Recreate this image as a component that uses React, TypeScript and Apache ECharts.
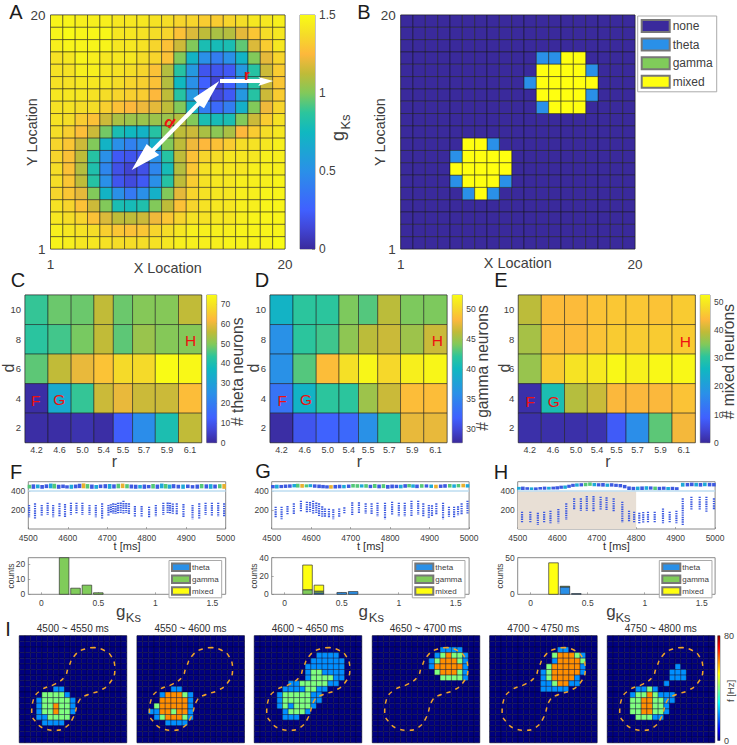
import React, { useEffect, useRef } from "react";
import * as echarts from "echarts";

const FONT = "Liberation Sans";
const INK = "#404040";

// ---------- Panel A: gKs per cell, top row first ----------
const gKsRows: number[][] = [
  [1.47,1.47,1.45,1.45,1.45,1.42,1.42,1.42,1.4,1.38,1.35,1.35,1.32,1.32,1.35,1.38,1.42,1.42,1.45],
  [1.47,1.5,1.48,1.48,1.48,1.42,1.42,1.4,1.38,1.35,1.28,1.18,1.12,1.08,1.1,1.2,1.3,1.38,1.42],
  [1.45,1.47,1.47,1.47,1.47,1.42,1.42,1.4,1.35,1.28,1.15,1.0,0.8,0.78,0.8,0.95,1.18,1.32,1.42],
  [1.4,1.42,1.47,1.45,1.42,1.42,1.42,1.38,1.35,1.28,1.0,0.72,0.5,0.4,0.5,0.72,1.0,1.2,1.35],
  [1.4,1.4,1.45,1.45,1.42,1.4,1.38,1.35,1.28,1.1,0.85,0.55,0.2,0.2,0.22,0.55,0.85,1.15,1.32],
  [1.4,1.4,1.42,1.42,1.42,1.38,1.35,1.33,1.28,1.1,0.75,0.5,0.25,0.13,0.25,0.5,0.85,1.15,1.3],
  [1.42,1.42,1.42,1.4,1.38,1.35,1.33,1.32,1.25,1.12,0.85,0.55,0.25,0.15,0.22,0.55,0.85,1.15,1.32],
  [1.4,1.4,1.38,1.38,1.33,1.28,1.25,1.22,1.2,1.12,1.0,0.72,0.4,0.3,0.4,0.7,1.0,1.22,1.35],
  [1.4,1.38,1.32,1.28,1.15,1.08,1.05,1.05,1.05,1.05,1.1,1.0,0.8,0.78,0.8,1.0,1.15,1.32,1.4],
  [1.38,1.33,1.27,1.15,0.98,0.8,0.75,0.72,0.85,1.0,1.12,1.15,1.08,1.02,1.08,1.25,1.32,1.38,1.42],
  [1.35,1.3,1.15,1.0,0.72,0.5,0.42,0.5,0.7,1.0,1.12,1.22,1.25,1.28,1.32,1.38,1.4,1.42,1.45],
  [1.35,1.28,1.12,0.85,0.5,0.22,0.2,0.22,0.5,0.85,1.12,1.28,1.35,1.38,1.42,1.42,1.42,1.45,1.45],
  [1.38,1.28,1.1,0.82,0.45,0.18,0.12,0.18,0.45,0.78,1.1,1.3,1.4,1.42,1.42,1.42,1.45,1.45,1.45],
  [1.38,1.3,1.12,0.85,0.5,0.2,0.15,0.22,0.5,0.85,1.12,1.32,1.4,1.42,1.42,1.45,1.45,1.45,1.47],
  [1.35,1.3,1.2,1.0,0.72,0.5,0.38,0.5,0.7,1.0,1.2,1.35,1.4,1.42,1.42,1.45,1.45,1.47,1.47],
  [1.4,1.35,1.28,1.15,1.0,0.8,0.78,0.82,1.0,1.12,1.28,1.35,1.4,1.42,1.42,1.45,1.45,1.47,1.47],
  [1.42,1.38,1.35,1.28,1.18,1.12,1.12,1.15,1.22,1.3,1.35,1.4,1.4,1.42,1.42,1.45,1.47,1.47,1.47],
  [1.45,1.42,1.4,1.38,1.33,1.3,1.28,1.3,1.35,1.38,1.42,1.45,1.45,1.45,1.45,1.47,1.47,1.47,1.47],
  [1.47,1.45,1.42,1.42,1.4,1.38,1.38,1.38,1.4,1.42,1.45,1.45,1.45,1.45,1.47,1.47,1.47,1.47,1.5],
];

// ---------- Panel B: 0 none, 1 theta, 2 gamma, 3 mixed; absent rows are all none ----------
const typeRows: Record<number, string> = {
  3: "...........1133....",
  4: "...........33331...",
  5: "..........133333...",
  6: "...........33331...",
  7: "...........1333....",
  10: ".....331...........",
  11: "....13333..........",
  12: "....33333..........",
  13: "....13331..........",
  14: ".....131...........",
};
const typeNames = ["none", "theta", "gamma", "mixed"];
const typeColors = ["#3a2a9c", "#2a90e8", "#80cc5a", "#ffff10"];

// ---------- Panels C D E ----------
const rLabels = ["4.2", "4.6", "5.0", "5.4", "5.5", "5.7", "5.9", "6.1"];
const rEdges = [0, 1.04, 2.09, 3.12, 4.0, 4.87, 5.9, 6.95, 8];
const dValues = [10, 8, 6, 4, 2];
const thetaCounts = [
  [44, 48, 48, 56, 48, 50, 50, 56],
  [43, 45, 49, 56, 47, 52, 50, 50],
  [47, 56, 60, 64, 68, 68, 75, 74],
  [1, 33, 44, 57, 60, 57, 57, 63],
  [1, 1, 2, 1, 12, 24, 40, 56],
];
const gammaCounts = [
  [39.5, 42, 42, 44, 43, 46, 44, 44],
  [36, 42, 42.5, 44.5, 46, 46.5, 45, 46.5],
  [36, 43, 48.5, 50.5, 52, 50, 51.5, 52],
  [33.5, 39.5, 42, 42, 45, 46.5, 48.5, 48.5],
  [28, 31, 32, 32.5, 36, 42, 47.5, 47.5],
];
const mixedCounts = [
  [39, 44, 44, 45, 45.5, 45.5, 45, 46],
  [37.5, 44, 44, 45, 46, 46, 46, 46],
  [36.5, 46, 49, 50, 52, 51, 52, 52],
  [1, 28, 38.5, 40, 43.5, 43.5, 43.5, 45],
  [1, 1, 1, 1.5, 8, 17, 33, 43],
];

// ---------- Panels F G H: rasters. [t, low neuron, high neuron, colour index] ----------
const lowF = [
  [4502,254,123],[4517,271,102],[4534,254,137],[4549,278,148],[4563,254,123],[4579,271,130],[4593,264,123],[4608,278,148],
  [4622,278,165],[4637,278,148],[4655,254,148],[4671,254,123],[4687,271,102],[4703,254,137],[4709,262,175],[4715,271,165],
  [4721,268,160],[4727,278,165],[4734,280,170],[4741,299,165],[4748,275,170],[4755,271,158],[4770,243,123],[4787,243,130],
  [4806,236,123],[4823,254,130],[4842,278,148],[4853,280,170],[4859,278,165],[4866,270,160],[4876,271,148],[4893,264,123],
  [4916,254,102],[4933,271,102],[4949,278,148],[4965,278,137],[4981,278,130],[4996,271,123],
];
const lowG = [
  [4510,236,113],[4525,236,102],[4540,243,148],[4556,271,158],[4574,299,183],[4589,289,172],[4597,285,180],[4605,299,165],
  [4613,280,170],[4620,271,137],[4628,240,130],[4635,218,123],[4645,215,115],[4656,208,102],[4671,218,123],[4684,229,158],
  [4704,282,148],[4721,282,165],[4738,271,165],[4753,271,158],[4768,278,130],[4787,278,102],[4805,289,148],[4822,278,130],
  [4837,278,130],[4854,299,130],[4871,299,148],[4884,271,130],[4898,254,113],[4906,250,130],[4917,271,148],[4934,278,102],
  [4949,236,130],[4962,236,123],[4972,240,140],[4981,271,148],[4996,299,158],
];
const lowH = [
  [4511,183,60],[4532,183,60],[4551,172,42],[4567,183,60],[4583,194,60],[4603,212,60],[4623,271,95],[4643,324,200],
  [4660,324,194],[4675,349,194],[4692,349,183],[4710,342,201],[4725,335,201],[4743,324,183],[4765,289,70],[4782,194,78],
  [4795,183,60],[4808,172,60],[4818,180,70],[4830,183,60],[4847,183,60],[4868,218,60],[4885,183,60],[4902,194,60],
  [4918,324,35],[4940,342,201],[4961,342,201],[4978,342,183],[4997,324,201],
];
const topF = [
  [4503,428,468,2],[4513,425,472,0],[4524,430,470,1],[4535,425,465,0],[4546,432,472,0],[4557,430,480,1],[4566,428,478,2],[4577,425,468,0],
  [4588,432,470,0],[4598,428,462,0],[4609,425,468,1],[4620,430,470,0],[4630,432,478,0],[4640,430,482,3],[4650,428,475,2],[4661,425,470,0],
  [4672,425,465,1],[4683,432,470,0],[4695,430,474,0],[4706,425,476,1],[4717,428,472,0],[4728,430,478,2],[4739,432,480,3],[4750,430,474,2],
  [4761,428,470,0],[4772,425,468,0],[4783,428,466,1],[4794,425,470,0],[4805,430,466,0],[4816,428,476,2],[4827,425,470,0],[4838,430,480,1],
  [4848,428,476,2],[4858,426,470,1],[4868,430,474,0],[4880,428,468,0],[4892,425,470,1],[4904,432,470,0],[4916,428,464,0],[4928,426,470,0],
  [4939,430,476,2],[4951,428,472,0],[4962,425,474,1],[4973,428,470,0],[4985,430,474,2],[4996,425,476,3],
];
const topG = [
  [4503,430,465,0],[4513,428,468,1],[4524,432,466,0],[4535,434,470,0],[4546,436,472,0],[4557,440,476,1],[4566,438,478,2],[4577,436,476,3],
  [4588,440,472,2],[4598,442,474,1],[4609,436,472,0],[4620,432,470,0],[4630,430,466,0],[4640,428,462,0],[4650,426,464,3],[4661,428,466,0],
  [4672,430,468,0],[4683,430,466,1],[4695,434,470,0],[4706,438,476,2],[4717,436,474,2],[4728,438,472,1],[4739,436,474,2],[4750,432,468,0],
  [4761,434,476,2],[4772,430,470,0],[4783,432,474,2],[4794,426,466,0],[4805,430,470,0],[4816,432,468,0],[4827,430,468,1],[4838,436,474,0],
  [4848,440,476,2],[4858,436,472,1],[4868,432,470,0],[4880,436,474,2],[4892,438,472,0],[4904,434,470,1],[4916,430,468,3],[4928,434,470,0],
  [4939,436,474,0],[4951,438,476,2],[4962,436,472,1],[4973,440,476,2],[4985,440,478,3],[4996,438,474,1],
];
const topH = [
  [4503,415,445,1],[4513,412,448,0],[4524,414,442,0],[4535,412,440,1],[4546,410,440,0],[4557,416,444,0],[4568,415,448,0],[4579,416,446,1],
  [4590,418,448,0],[4600,418,452,0],[4610,425,458,0],[4620,425,460,1],[4630,435,468,0],[4640,445,478,0],[4650,448,482,1],[4661,450,484,0],
  [4672,452,488,2],[4683,456,492,2],[4694,452,486,1],[4705,450,484,0],[4716,448,486,0],[4727,446,480,1],[4738,448,484,0],[4749,445,478,0],
  [4760,440,476,0],[4771,430,466,0],[4782,412,450,0],[4793,408,446,0],[4804,410,448,1],[4815,412,450,0],[4826,414,452,1],[4837,416,450,0],
  [4848,412,448,2],[4859,410,446,0],[4870,414,448,0],[4881,410,444,1],[4892,412,446,0],[4903,410,442,0],[4918,448,488,1],[4930,450,486,0],
  [4941,452,490,0],[4952,450,488,1],[4963,448,486,0],[4974,452,490,1],[4986,450,488,0],[4997,450,486,0],
];
const rasterColors = ["#3d5ae0", "#1ea8d8", "#54c878", "#e8b030"];
const rasterTicks = [4500, 4600, 4700, 4800, 4900, 5000];
const rasterNeuronTicks = [200, 400];
const sparseBand = [[4500, 402], [5000, 402]];
const shadedH = [[4500, 4800, 0, 400, 0]];

// ---------- Histograms: per bin counts ----------
const binsF = [0.2, 0.3, 0.4, 0.5];
const thetaF = [0, 0, 0, 0];
const gammaF = [24, 4, 6, 1];
const mixedF = [0, 0, 0, 0];
const binsG = [0.2, 0.3, 0.5, 0.6];
const thetaG = [0, 1.5, 2, 3];
const gammaG = [5, 2, 0, 0];
const mixedG = [27, 6.5, 0, 0];
const binsH = [0.2, 0.3, 0.4];
const thetaH = [0, 10, 1];
const gammaH = [0, 1, 0];
const mixedH = [43, 0, 0];
const histXTicks = [0, 0.5, 1, 1.5];

// ---------- Panel I: firing maps. Digits: 1 = 20 Hz, 2 = 40 Hz, 3 = 60 Hz; key is the row from the top ----------
const mapTitles = ["4500 ~ 4550 ms", "4550 ~ 4600 ms", "4600 ~ 4650 ms", "4650 ~ 4700 ms", "4700 ~ 4750 ms", "4750 ~ 4800 ms"];
const map0: Record<number, string> = {
  9: "......11...........",
  10: "....22221..........",
  11: "...1222221.........",
  12: "...1223221.........",
  13: "...1223221.........",
  14: "...112222..........",
  15: "....1111...........",
};
const map1: Record<number, string> = {
  9: "......11...........",
  10: "....133321.........",
  11: "....333331.........",
  12: "...2333331.........",
  13: "..11332331.........",
  14: "...1233321.........",
  15: ".....1111..........",
};
const map2: Record<number, string> = {
  3: "...........1111....",
  4: "..........111111...",
  5: ".........1111111...",
  6: ".........1221111...",
  7: ".........1222211...",
  8: "......112222211....",
  9: ".....11112211......",
  10: "....12222211.......",
  11: "....12222211.......",
  12: "....1212221........",
  13: ".....12221.........",
  14: ".....111...........",
};
const map3: Record<number, string> = {
  2: "............1111...",
  3: "...........123221..",
  4: "..........1233321..",
  5: "..........1333331..",
  6: "...........233321..",
  7: "............22221..",
};
const map4: Record<number, string> = {
  2: "............11.....",
  3: "...........233321..",
  4: "...........133332..",
  5: "..........2333331..",
  6: ".........12333331..",
  7: ".........1233331...",
  8: ".........1123311...",
  9: ".........11111.....",
};
const map5: Record<number, string> = {
  5: "............1......",
  6: "...........111.....",
  7: "...........111.....",
  8: "..........1........",
  9: ".....1121..........",
  10: "....12232111.......",
  11: "....22332211.......",
  12: "....2233221........",
  13: "....2233221........",
  14: ".....22211.........",
};
const outline = [
  [13.3,2.1],[11.6,2.35],[9.8,3.5],[8.65,5.75],[8.05,7.25],[6.3,8.6],[3.95,9.6],[2.5,11.35],[2.2,13.7],[3.05,15.45],[4.5,16.5],
  [6.3,16.8],[8.05,16.35],[9.5,14.6],[10.7,11.35],[12.2,10.45],[14.25,9.75],[16,8.4],[16.9,6.05],[16.3,3.7],[14.8,2.5],[13.3,2.1],
];

// ---------- colour maps ----------
const parulaStops: [number, string][] = [
  [0, "#3a2a9c"], [0.09, "#4147d8"], [0.167, "#4060ff"], [0.333, "#2a90e8"], [0.5, "#10b8c0"], [0.583, "#2cc59c"],
  [0.667, "#82c95a"], [0.75, "#c0bb38"], [0.833, "#fdb83c"], [0.917, "#f5dc28"], [1, "#f9fb15"],
];
const jetStops: [number, string][] = [
  [0, "#00007f"], [0.11, "#0000ff"], [0.36, "#00ffff"], [0.5, "#80ff80"], [0.64, "#ffff00"], [0.89, "#ff0000"], [1, "#7f0000"],
];
const hex = (s: string) => [1, 3, 5].map((i) => parseInt(s.slice(i, i + 2), 16));
function ramp(stops: [number, string][], t: number) {
  const v = Math.max(0, Math.min(1, t));
  for (let i = 1; i < stops.length; i++) {
    if (v <= stops[i][0]) {
      const f = (v - stops[i - 1][0]) / (stops[i][0] - stops[i - 1][0]);
      const a = hex(stops[i - 1][1]);
      const b = hex(stops[i][1]);
      return `rgb(${a.map((c, k) => Math.round(c + (b[k] - c) * f)).join(",")})`;
    }
  }
  return stops[stops.length - 1][1];
}
const gradient = (stops: [number, string][]) =>
  new echarts.graphic.LinearGradient(0, 1, 0, 0, stops.map(([offset, color]) => ({ offset, color })));

function buildOption() {
  const grid: any[] = [];
  const xAxis: any[] = [];
  const yAxis: any[] = [];
  const series: any[] = [];
  const graphic: any[] = [];
  const legend: any[] = [];

  const font = (fontSize: number, color = INK) => ({ fontFamily: FONT, fontSize, color });
  const addGrid = (x0: number, y0: number, x1: number, y1: number, xa: any, ya: any, border = "#8a8a8a") => {
    grid.push({ left: x0, top: y0, width: x1 - x0, height: y1 - y0, show: true, borderColor: border, borderWidth: 1, backgroundColor: "transparent" });
    const base = { gridIndex: grid.length - 1, type: "value", splitLine: { show: false }, axisLine: { show: false, onZero: false }, axisTick: { show: false }, nameMoveOverlap: false };
    xAxis.push({ ...base, ...xa });
    yAxis.push({ ...base, ...ya });
    return grid.length - 1;
  };
  const addText = (text: string, x: number, y: number, fontSize: number, opts: any = {}) => {
    graphic.push({
      type: "text", x, y, z: 100, rotation: opts.rotation || 0, silent: true,
      style: { text, fontFamily: FONT, fontSize, fontWeight: opts.weight || "normal", fill: opts.color || INK, align: "center", verticalAlign: "middle" },
    });
  };
  const rectSeries = (gi: number, data: number[][], fill: (v: number) => any, stroke: string, lineWidth: number, name?: string, color?: string) => {
    series.push({
      type: "custom", name, xAxisIndex: gi, yAxisIndex: gi, silent: true, clip: false, data,
      encode: { x: [0, 1], y: [2, 3] },
      itemStyle: color ? { color, borderColor: "#777", borderWidth: 0.6 } : undefined,
      renderItem: (_: any, api: any) => {
        const p = api.coord([api.value(0), api.value(2)]);
        const q = api.coord([api.value(1), api.value(3)]);
        return {
          type: "rect",
          shape: { x: Math.min(p[0], q[0]), y: Math.min(p[1], q[1]), width: Math.abs(q[0] - p[0]), height: Math.abs(q[1] - p[1]) },
          style: { fill: fill(api.value(4)), stroke, lineWidth },
        };
      },
    });
  };
  const segmentSeries = (gi: number, data: number[][], lineWidth: number, dash?: number[]) => {
    series.push({
      type: "custom", xAxisIndex: gi, yAxisIndex: gi, silent: true, data,
      encode: { x: 0, y: [1, 2] },
      renderItem: (_: any, api: any) => {
        const p = api.coord([api.value(0), api.value(1)]);
        const q = api.coord([api.value(0), api.value(2)]);
        return {
          type: "line",
          shape: { x1: p[0], y1: p[1], x2: q[0], y2: q[1] },
          style: { stroke: rasterColors[api.value(3) || 0], lineWidth, lineDash: dash },
        };
      },
    });
  };
  const colorbar = (x0: number, y0: number, x1: number, y1: number, min: number, max: number, ticks: number[], stops: [number, string][], size: number, inside = true) => {
    const gi = addGrid(x0, y0, x1, y1, { show: false, min: 0, max: 1 }, {
      position: "right", min, max,
      axisTick: { show: inside, inside: true, length: 3, customValues: ticks, lineStyle: { color: "#666", width: 0.6 } },
      axisLabel: { customValues: ticks, margin: 4, ...font(size) },
    });
    const g = gradient(stops);
    rectSeries(gi, [[0, 1, min, max, 0]], () => g, "none", 0);
  };

  // ---------- pixel map axes (A, B) ----------
  const pixelAxes = (nameGapX: number, nameGapY: number) => ({
    x: {
      min: 1, max: 20, axisLabel: { customValues: [1, 20], margin: 8, ...font(13.5) },
      name: "X Location", nameLocation: "middle", nameGap: nameGapX, nameTextStyle: font(14.4),
    },
    y: {
      min: 1, max: 20, axisLabel: { customValues: [1, 20], margin: 5, ...font(13.5) },
      name: "Y Location", nameLocation: "middle", nameGap: nameGapY, nameTextStyle: font(14.4),
    },
  });
  const pixelStroke = "rgba(20,20,20,0.7)";

  // A
  const axA = pixelAxes(12, 11.5);
  const giA = addGrid(50.5, 15, 285, 249, axA.x, axA.y);
  const dataA: number[][] = [];
  gKsRows.forEach((row, r) => row.forEach((v, c) => dataA.push([c + 1, c + 2, 19 - r, 20 - r, v])));
  rectSeries(giA, dataA, (v) => ramp(parulaStops, v / 1.5), pixelStroke, 0.7);
  colorbar(300, 15, 315, 249, 0, 1.5, [0, 0.5, 1, 1.5], parulaStops, 12);
  addText("g", 338, 136, 18, { rotation: Math.PI / 2 });
  addText("Ks", 345.5, 122, 13, { rotation: Math.PI / 2 });
  graphic.push({
    type: "polygon", z: 99, silent: true, style: { fill: "#ffffff" },
    shape: { points: [[219.3,81],[204,108.3],[199.7,105.4],[154.7,151.4],[159.3,155],[131.7,170],[146.7,144],[151.9,148.6],[196.9,102.6],[193.3,98.3]] },
  });
  graphic.push({
    type: "polygon", z: 99, silent: true, style: { fill: "#ffffff" },
    shape: { points: [[220,79],[260,79],[258.3,77],[273.3,81],[258.3,86],[260,83],[220,83]] },
  });
  addText("r", 247, 74, 15, { color: "#ee1111", weight: "bold" });
  addText("d", 170, 122, 15, { color: "#ee1111", weight: "bold", rotation: -0.6 });

  // B
  const axB = pixelAxes(6.5, 13.7);
  const giB = addGrid(400.7, 15, 635, 249, axB.x, axB.y);
  typeNames.forEach((name, k) => {
    const data: number[][] = [];
    for (let r = 0; r < 19; r++) {
      const row = typeRows[r] || "...................";
      for (let c = 0; c < 19; c++) {
        const kind = row[c] === "." ? 0 : Number(row[c]);
        if (kind === k) data.push([c + 1, c + 2, 19 - r, 20 - r, kind]);
      }
    }
    rectSeries(giB, data, (v) => typeColors[v], pixelStroke, 0.7, name, typeColors[k]);
  });
  legend.push({
    left: 637.7, top: 16, orient: "vertical", icon: "rect", selectedMode: false, data: typeNames,
    itemWidth: 28, itemHeight: 12, itemGap: 4.6, padding: [3, 4, 3, 3], borderColor: "#aaa", borderWidth: 1, textStyle: { ...font(12), padding: [0, 0, 0, -2] },
  });

  // C D E
  const rCenters = rLabels.map((_, i) => (rEdges[i] + rEdges[i + 1]) / 2);
  const countPanel = (
    x0: number, x1: number, cbx0: number, cbx1: number, counts: number[][], min: number, max: number, ticks: number[],
    label: string, labelX: number, labelY: number, dX: number, fx: number, gx: number, hx: number,
    letterDy: number,
  ) => {
    const gi = addGrid(x0, 295, x1, 442.7, {
      min: 0, max: 8,
      axisLabel: { customValues: rCenters, margin: 2.5, ...font(9), formatter: (v: number) => rLabels[rCenters.findIndex((c) => Math.abs(c - v) < 1e-6)] },
    }, {
      min: 1, max: 11, axisLabel: { customValues: dValues, margin: 4, ...font(9.5) },
    });
    const data: number[][] = [];
    counts.forEach((row, i) => row.forEach((v, c) => data.push([rEdges[c], rEdges[c + 1], dValues[i] - 1, dValues[i] + 1, v])));
    rectSeries(gi, data, (v) => ramp(parulaStops, (v - min) / (max - min)), "rgba(20,20,20,0.7)", 0.7);
    colorbar(cbx0, 295, cbx1, 442.7, min, max, ticks, parulaStops, 8.5);
    addText(label, labelX, labelY, 15.6, { rotation: Math.PI / 2 });
    addText("r", (x0 + x1) / 2 + 1, 461, 16);
    addText("d", dX, 368, 16, { rotation: Math.PI / 2 });
    addText("F", fx, 400 + letterDy, 15.5, { color: "#ee1111" });
    addText("G", gx, 399.5 + letterDy, 15.5, { color: "#ee1111" });
    addText("H", hx, 340 + letterDy, 15.5, { color: "#ee1111" });
  };
  countPanel(25, 201.7, 206.7, 216.7, thetaCounts, 0, 74.5, [0, 10, 20, 30, 40, 50, 60, 70], "# theta neurons", 237, 371.7, 8, 35.7, 59.3, 190.7, 0);
  countPanel(270, 447, 452.3, 462.3, gammaCounts, 27.7, 52.3, [30, 35, 40, 45, 50], "# gamma neurons", 482.3, 368, 253, 282.3, 306, 437.3, 0);
  countPanel(518.3, 695.3, 700.3, 710, mixedCounts, 0, 52.4, [0, 10, 20, 30, 40, 50], "# mixed neurons", 728, 361.7, 504, 530.3, 553.7, 685.3, 1.5);

  // F G H
  const plain = (v: number) => String(v);
  const rasterPanel = (x0: number, top: number[][], low: number[][], shaded?: number[][]) => {
    const gi = addGrid(x0, 481.7, x0 + 197.4, 529, {
      min: 4500, max: 5000,
      axisTick: { show: true, inside: true, length: 2, customValues: rasterTicks, lineStyle: { color: "#777", width: 0.6 } },
      axisLabel: { customValues: rasterTicks, margin: 4, formatter: plain, ...font(8.5) },
      name: "t [ms]", nameLocation: "middle", nameGap: 11.5, nameTextStyle: font(11, "#303030"),
    }, {
      min: 0, max: 500,
      axisTick: { show: true, inside: true, length: 2, customValues: rasterNeuronTicks, lineStyle: { color: "#777", width: 0.6 } },
      axisLabel: { customValues: rasterNeuronTicks, margin: 3, ...font(8.5) },
    });
    if (shaded) rectSeries(gi, shaded, () => "#e8dfd5", "none", 0);
    series.push({ type: "line", xAxisIndex: gi, yAxisIndex: gi, data: sparseBand, symbol: "none", silent: true, lineStyle: { color: "#bcdcf0", width: 1.6 } });
    segmentSeries(gi, low, 2.2, [1.4, 0.9]);
    segmentSeries(gi, top, 3.6);
  };
  rasterPanel(28.3, topF, lowF);
  rasterPanel(271.7, topG, lowG);
  rasterPanel(517.7, topH, lowH, shadedH);

  const histPanel = (x0: number, yMax: number, yTicks: number[], bins: number[], theta: number[], gamma: number[], mixed: number[], legendX: number, gx: number, ksx: number) => {
    const gi = addGrid(x0, 557.7, x0 + 197.4, 594.3, {
      min: -0.114, max: 1.617,
      axisTick: { show: true, inside: true, length: 2, customValues: histXTicks, lineStyle: { color: "#777", width: 0.6 } },
      axisLabel: { customValues: histXTicks, margin: 4, ...font(8.5) },
    }, {
      min: 0, max: yMax,
      axisTick: { show: true, inside: true, length: 2, customValues: yTicks, lineStyle: { color: "#777", width: 0.6 } },
      axisLabel: { customValues: yTicks, margin: 3, ...font(8.5) },
      name: "counts", nameLocation: "middle", nameGap: 13, nameTextStyle: font(8.5),
    });
    const halfBar = 0.042;
    const base = bins.map(() => 0);
    ([["theta", theta, typeColors[1]], ["gamma", gamma, typeColors[2]], ["mixed", mixed, typeColors[3]]] as [string, number[], string][]).forEach(([name, values, color]) => {
      const data: number[][] = [];
      bins.forEach((b, i) => {
        if (values[i] > 0) data.push([b - halfBar, b + halfBar, base[i], base[i] + values[i], 0]);
        base[i] += values[i];
      });
      rectSeries(gi, data, () => color, "#333", 0.7, name, color);
    });
    legend.push({
      left: legendX, top: 560.5, orient: "vertical", icon: "rect", selectedMode: false, data: ["theta", "gamma", "mixed"],
      itemWidth: 18, itemHeight: 7.5, itemGap: 2.4, padding: [2, 3, 2, 2], borderColor: "#aaa", borderWidth: 1, backgroundColor: "#fff",
      textStyle: { ...font(8), padding: [0, 0, 0, -3] },
    });
    addText("g", gx, 611, 17);
    addText("Ks", ksx, 617, 13);
  };
  histPanel(28.3, 24, [0, 10, 20], binsF, thetaF, gammaF, mixedF, 169, 120.7, 133.3);
  histPanel(271.7, 40, [0, 20, 40], binsG, thetaG, gammaG, mixedG, 412.3, 363.3, 376.3);
  histPanel(517.7, 50, [0, 50], binsH, thetaH, gammaH, mixedH, 659.3, 611, 623);

  // I
  const mapLefts = [19.3, 137, 254.3, 372.3, 489.7, 607.3];
  const maps = [map0, map1, map2, map3, map4, map5];
  const hzLevels = [0, 20, 40, 60];
  maps.forEach((m, k) => {
    const gi = addGrid(mapLefts[k], 635.7, mapLefts[k] + 107.4, 742.7, { show: false, min: 0, max: 19 }, { show: false, min: 0, max: 19, inverse: true });
    const data: number[][] = [];
    for (let r = 0; r < 19; r++) {
      const row = m[r] || "...................";
      for (let c = 0; c < 19; c++) {
        const level = row[c] === "." ? 0 : Number(row[c]);
        data.push([c, c + 1, r, r + 1, hzLevels[level]]);
      }
    }
    rectSeries(gi, data, (v) => ramp(jetStops, v / 80), "rgba(0,0,40,0.8)", 0.5);
    series.push({
      type: "line", xAxisIndex: gi, yAxisIndex: gi, data: outline, symbol: "none", smooth: 0.5, silent: true, z: 5,
      lineStyle: { color: "#f0a428", width: 1.5, type: [4.5, 5] },
    });
    addText(mapTitles[k], mapLefts[k] + 53.5, 628, 10, { color: "#303030" });
  });
  colorbar(717.7, 635.7, 721.5, 742.7, 0, 80, [0, 80], jetStops, 9, false);
  addText("f [Hz]", 730, 691, 9.5, { rotation: Math.PI / 2 });

  // panel letters
  ([["A", 16, 11.5], ["B", 364, 11.5], ["C", 18, 280], ["D", 262, 280], ["E", 501, 280], ["F", 16, 472], ["G", 263, 471], ["H", 501, 472], ["I", 8, 629]] as [string, number, number][]).forEach(
    ([t, x, y]) => addText(t, x, y, 20, { color: "#1c1c1c" }),
  );

  return { animation: false, backgroundColor: "#ffffff", textStyle: { fontFamily: FONT }, grid, xAxis, yAxis, series, legend, graphic: { elements: graphic } };
}

export default function App() {
  const ref = useRef<HTMLDivElement>(null);
  useEffect(() => {
    const chart = echarts.init(ref.current!, undefined, { renderer: "svg" });
    chart.setOption(buildOption() as any);
    return () => chart.dispose();
  }, []);
  return <div ref={ref} style={{ position: "absolute", left: 0, top: 0, width: 737, height: 745 }} />;
}
